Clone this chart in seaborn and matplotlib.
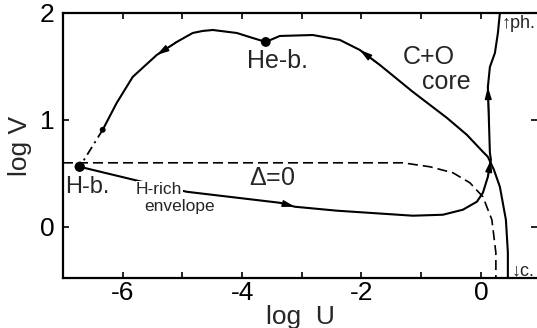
import matplotlib
matplotlib.use("Agg")
import matplotlib.pyplot as plt
import pandas as pd
import seaborn as sns

# Evolutionary track of the C+O core: from the centre (bottom) through the
# He-burning shell up to the H-burning shell
core_logU = [0.452, 0.452, 0.419, 0.318, 0.218, 0.117, 0.034, -0.235, -0.570,
             -1.140, -1.693, -2.028, -2.363, -2.816, -3.369, -3.603, -3.821,
             -4.089, -4.491, -4.660, -4.827, -5.095, -5.430, -5.832, -6.100,
             -6.335]
core_logV = [-0.477, -0.243, 0.065, 0.374, 0.533, 0.654, 0.701, 0.860, 1.019,
             1.262, 1.514, 1.654, 1.748, 1.794, 1.785, 1.729, 1.766,
             1.813, 1.841, 1.832, 1.813, 1.729, 1.607, 1.402, 1.159,
             0.907]
core_arrows = [11, 22]

# transition between the core solution and the H-burning shell
trans_logU = [-6.335, -6.720]
trans_logV = [0.907, 0.561]

# H-rich envelope from the H-burning shell out to the photosphere
env_logU = [-6.720, -5.681, -4.927, -3.369, -3.117, -2.413, -1.140, -0.637,
            -0.302, -0.067, 0.034, 0.117, 0.168, 0.151, 0.134, 0.117, 0.151,
            0.235, 0.285, 0.318]
env_logV = [0.561, 0.421, 0.327, 0.224, 0.187, 0.150, 0.103, 0.112,
            0.159, 0.234, 0.318, 0.467, 0.626, 0.692, 1.000, 1.308, 1.495,
            1.626, 1.813, 2.000]
env_arrows = [4, 12, 15]

# Delta = 0 curve
delta_logU = [-7.0, -1.307, -0.855, -0.469, -0.184, 0.034, 0.184, 0.251, 0.251]
delta_logV = [0.598, 0.598, 0.561, 0.505, 0.411, 0.280, 0.065, -0.243, -0.477]

# burning shells and the end of the core solution
point_logU = [-6.720, -3.603, -6.335]
point_logV = [0.561, 1.729, 0.907]
point_size = [55, 50, 18]

x_ticks = [-7, -6, -5, -4, -3, -2, -1, 0]
x_labels = ["", "-6", "", "-4", "", "-2", "", "0"]
y_ticks = [0, 1, 2]
y_labels = ["0", "1", "2"]

sns.set_theme(style="ticks")
plt.rcParams["font.family"] = ["Liberation Sans", "DejaVu Sans"]
plt.rcParams["mathtext.fontset"] = "custom"
plt.rcParams["mathtext.it"] = "Liberation Sans:italic"
plt.rcParams["mathtext.rm"] = "Liberation Sans"
plt.rcParams["axes.unicode_minus"] = False

fig = plt.figure(figsize=(5.37, 3.28), dpi=100)
ax = fig.add_axes([63 / 537, 50 / 328, 1 - 63 / 537, 265 / 328])

lw = 1.5
core = pd.DataFrame({"logU": core_logU, "logV": core_logV})
env = pd.DataFrame({"logU": env_logU, "logV": env_logV})
delta = pd.DataFrame({"logU": delta_logU, "logV": delta_logV})
trans = pd.DataFrame({"logU": trans_logU, "logV": trans_logV})

sns.lineplot(data=core, x="logU", y="logV", sort=False, estimator=None,
             color="black", lw=lw, ax=ax)
sns.lineplot(data=env, x="logU", y="logV", sort=False, estimator=None,
             color="black", lw=lw, ax=ax)
sns.lineplot(data=delta, x="logU", y="logV", sort=False, estimator=None,
             color="black", lw=1.2, ax=ax)
ax.lines[-1].set_dashes((6, 3))
sns.lineplot(data=trans, x="logU", y="logV", sort=False, estimator=None,
             color="black", lw=1.3, ax=ax)
ax.lines[-1].set_dashes((5, 2.5, 1.2, 2.5))

sns.scatterplot(x=point_logU, y=point_logV, s=point_size, color="black",
                edgecolor="none", ax=ax, zorder=5)


def arrowheads(us, vs, idx):
    for i in idx:
        ax.annotate("", xy=(us[i], vs[i]), xytext=(us[i - 1], vs[i - 1]),
                    arrowprops=dict(arrowstyle="-|>,head_length=0.6,head_width=0.17",
                                    color="black", lw=1, shrinkA=0, shrinkB=0),
                    zorder=4)


arrowheads(core_logU, core_logV, core_arrows)
arrowheads(env_logU, env_logV, env_arrows)

# labels
ax.text(-3.40, 1.55, "He-b.", fontsize=18, ha="center", va="center")
ax.text(-6.60, 0.37, "H-b.", fontsize=17, ha="center", va="center")
ax.text(-5.39, 0.35, "H-rich", fontsize=12.5, ha="center", va="center",
        bbox=dict(facecolor="white", edgecolor="none", pad=0.3), zorder=6)
ax.text(-5.04, 0.19, "envelope", fontsize=12.5, ha="center", va="center")
ax.text(-3.50, 0.46, r"$\mathit{\Delta}$=0", fontsize=18, ha="center", va="center")
ax.text(-0.88, 1.59, "C+O", fontsize=18, ha="center", va="center")
ax.text(-0.58, 1.35, "core", fontsize=18, ha="center", va="center")
ax.text(0.34, 1.90, "↑ph.", fontsize=13, ha="left", va="center")
ax.text(0.52, -0.41, "↓c.", fontsize=13, ha="left", va="center")

ax.set_xlim(-7.0, 0.94)
ax.set_ylim(-0.48, 2.0)
ax.set_xticks(x_ticks)
ax.set_xticklabels(x_labels)
ax.set_yticks(y_ticks)
ax.set_yticklabels(y_labels)
ax.tick_params(direction="in", length=4, width=1.2, labelsize=19,
               top=True, right=True, colors="black")
ax.tick_params(axis="x", pad=2)
ax.tick_params(axis="y", pad=6)
ax.set_xlabel("log  U", fontsize=19, labelpad=0)
ax.set_ylabel("log V", fontsize=19, labelpad=6)
for side in ["left", "bottom", "top"]:
    ax.spines[side].set_linewidth(1.6)
    ax.spines[side].set_color("black")
ax.spines["right"].set_visible(False)

fig.savefig("out.png", dpi=100)
